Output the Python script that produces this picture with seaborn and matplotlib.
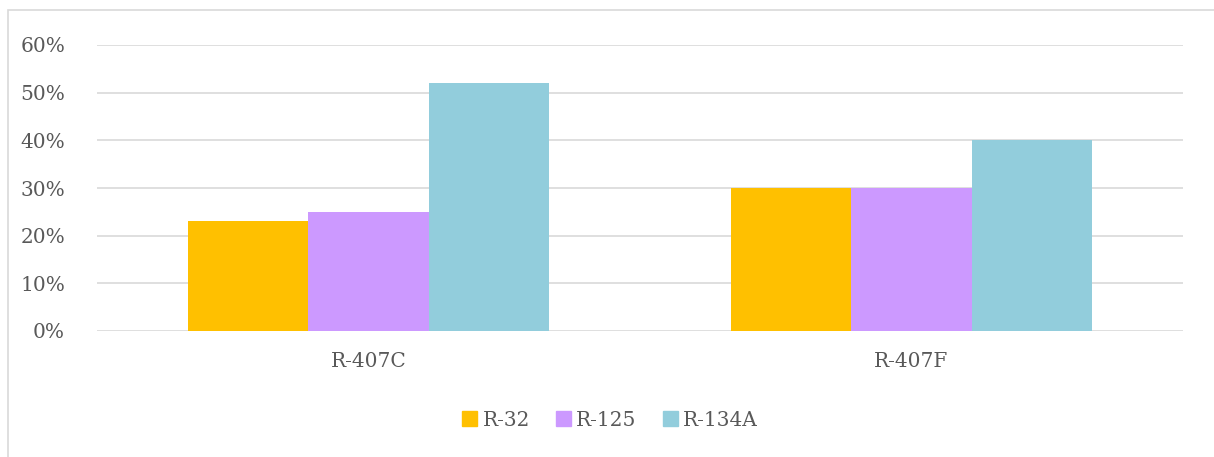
import matplotlib
matplotlib.use('Agg')
import matplotlib.pyplot as plt
import matplotlib.patches as mpatches
import seaborn as sns
import pandas as pd

blends = ['R-407C', 'R-407F']
components = ['R-32', 'R-125', 'R-134A']
r407c = [0.23, 0.25, 0.52]
r407f = [0.30, 0.30, 0.40]
colors = ['#FFC000', '#CC99FF', '#92CDDC']

rows = []
for blend, vals in zip(blends, [r407c, r407f]):
    for comp, v in zip(components, vals):
        rows.append({'blend': blend, 'component': comp, 'share': v})
df = pd.DataFrame(rows)

sns.set_style('white')
plt.rcParams['font.family'] = ['DejaVu Serif']

fig = plt.figure(figsize=(12.14, 4.57), dpi=100)
ax = fig.add_axes([97 / 1214, 1 - 331 / 457, (1183 - 97) / 1214, (331 - 45) / 457])

sns.barplot(data=df, x='blend', y='share', hue='component', palette=colors,
            width=0.665, gap=0, saturation=1, ax=ax, legend=False,
            linewidth=0, zorder=3)

ax.set_ylim(0, 0.6)
ax.set_xlim(-0.5, 1.5)
ticks = [0, 0.1, 0.2, 0.3, 0.4, 0.5, 0.6]
ax.set_yticks(ticks)
ax.set_yticklabels([f'{int(round(t * 100))}%' for t in ticks])
ax.grid(axis='y', color='#D9D9D9', linewidth=1.2, zorder=0)
ax.set_axisbelow(True)
for s in ax.spines.values():
    s.set_visible(False)
ax.tick_params(axis='both', length=0, labelsize=14.5, labelcolor='#595959')
ax.tick_params(axis='y', pad=23)
ax.tick_params(axis='x', pad=15)
ax.set_xlabel('')
ax.set_ylabel('')

handles = [mpatches.Patch(color=c, label=l) for c, l in zip(colors, components)]
fig.legend(handles=handles, loc='center', bbox_to_anchor=(610 / 1214, 1 - 420 / 457),
           ncol=3, frameon=False, fontsize=14.5, handlelength=0.75, handleheight=0.75,
           handletextpad=0.25, columnspacing=1.3, labelcolor='#595959')

border = mpatches.Rectangle((8 / 1214, -0.1), 1.1, 0.1 + (1 - 10 / 457),
                            transform=fig.transFigure, fill=False,
                            edgecolor='#D9D9D9', linewidth=1.2)
fig.patches.append(border)

fig.savefig('out.png', dpi=100)
